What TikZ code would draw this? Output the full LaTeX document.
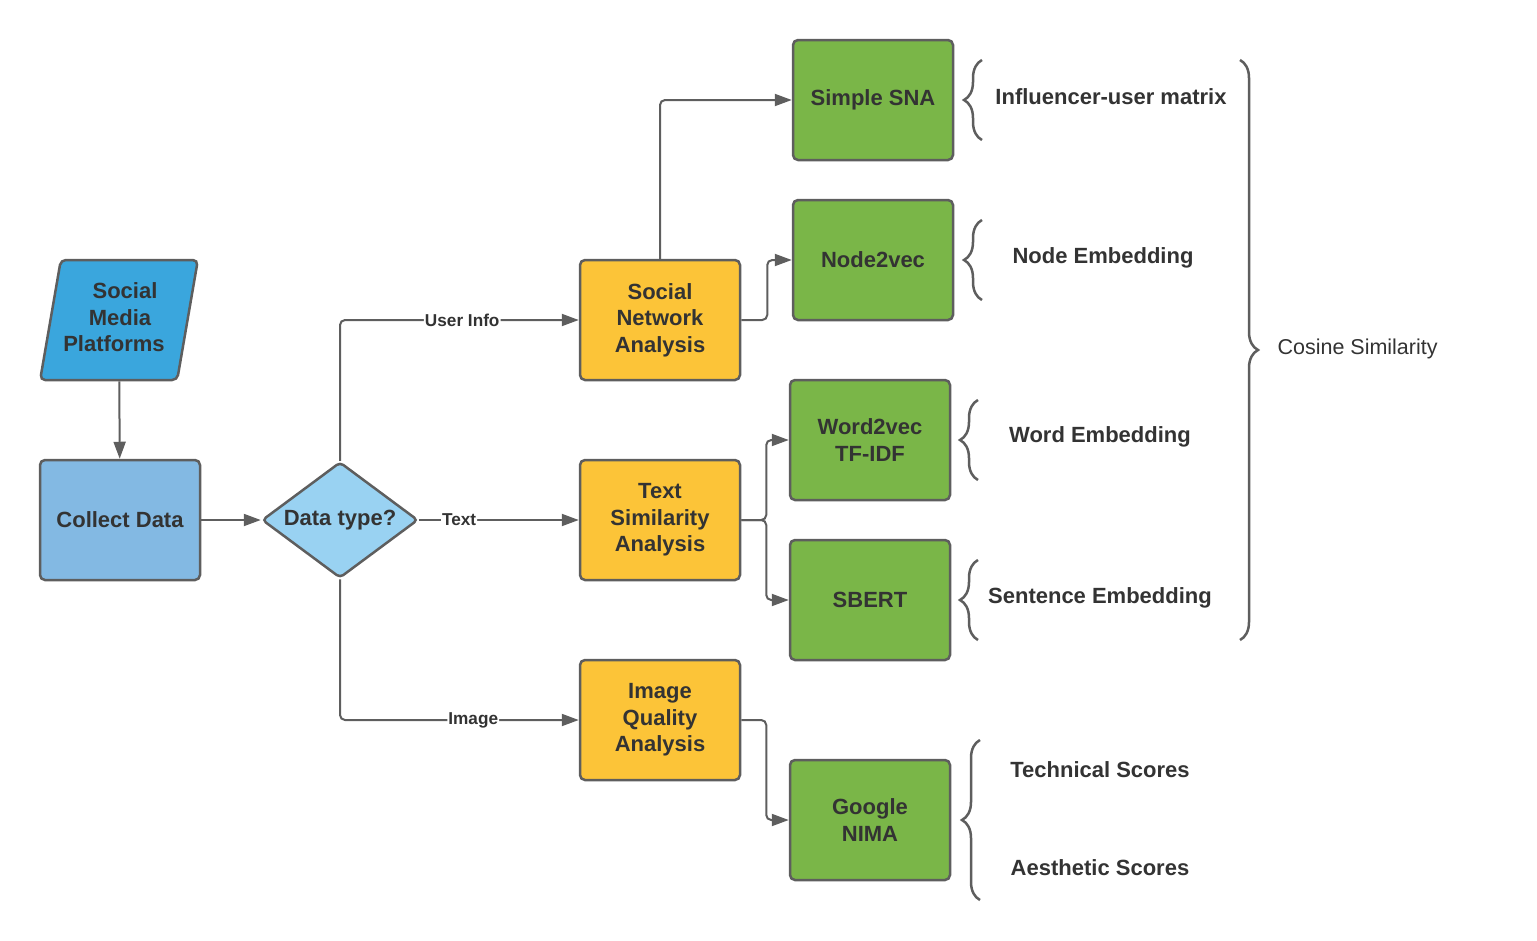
\documentclass[tikz,border=0pt]{standalone}
\usepackage{fontspec}
\setmainfont{Liberation Sans}
\usetikzlibrary{shapes.geometric,arrows.meta,decorations.pathreplacing}
\definecolor{ecol}{HTML}{5E5E5E}
\definecolor{tcol}{HTML}{333333}
\definecolor{skyfill}{HTML}{3AA6DD}
\definecolor{bluefill}{HTML}{83B9E3}
\definecolor{diafill}{HTML}{99D2F2}
\definecolor{orfill}{HTML}{FCC438}
\definecolor{grfill}{HTML}{7AB648}
\tikzstyle{box}=[rectangle, draw=ecol, line width=2.5pt, rounded corners=5pt, minimum width=160pt, minimum height=120pt, text=tcol, font=\bfseries\fontsize{22}{26.5}\selectfont, align=center, inner sep=0pt]
\tikzstyle{analysis}=[box, fill=orfill]
\tikzstyle{method}=[box, fill=grfill]
\tikzstyle{flow}=[line width=2pt, ecol, rounded corners=5pt, -{Triangle[length=17pt,width=12pt]}]
\tikzstyle{elabel}=[fill=white, inner sep=1pt, text=tcol, font=\bfseries\fontsize{17.2}{19}\selectfont]
\tikzstyle{curly}=[decorate, decoration={brace, amplitude=18pt}, line width=2.5pt, ecol]
\tikzstyle{note}=[text=tcol, font=\bfseries\fontsize{22}{26.5}\selectfont]

\begin{document}
\begin{tikzpicture}[x=1pt, y=-1pt]
	\useasboundingbox (0,0) rectangle (1537,940);

	% Input
	\node[trapezium, trapezium left angle=76, trapezium right angle=104, trapezium stretches=true,
		minimum width=158pt, minimum height=120pt, inner sep=0pt, draw=ecol, line width=2.5pt,
		rounded corners=5pt, fill=skyfill, text=tcol, align=center,
		font=\bfseries\fontsize{22}{26.5}\selectfont] (smp) at (119,320) {\raisebox{4pt}{\begin{tabular}{@{}c@{}}\hspace*{12pt}Social\\\hspace*{2pt}Media\\Platforms\hspace*{10pt}\end{tabular}}};
	\node[box, fill=bluefill] (collect) at (120,520) {Collect Data};
	\node[diamond, aspect=1.35, minimum width=156pt, minimum height=116pt, inner sep=0pt, draw=ecol, line width=2.5pt,
		rounded corners=4pt, fill=diafill, text=tcol,
		font=\bfseries\fontsize{22}{26.5}\selectfont] (dtype) at (340,520) {Data type?};

	% Analyses
	\node[analysis] (sna) at (660,320) {Social\\Network\\Analysis};
	\node[analysis] (tsa) at (660,520) {Text\\Similarity\\Analysis};
	\node[analysis] (iqa) at (660,720) {Image\\Quality\\Analysis};

	% Methods
	\node[method] (simple) at (873,100) {Simple SNA};
	\node[method] (n2v) at (873,260) {Node2vec};
	\node[method] (w2v) at (870,440) {Word2vec\\TF-IDF};
	\node[method] (sbert) at (870,600) {SBERT};
	\node[method] (nima) at (870,820) {Google\\NIMA};

	% Flow
	\draw[flow] (smp) -- (collect);
	\draw[flow] (collect) -- (dtype);
	\draw[flow] (dtype.north) |- node[elabel, pos=0.756] {User Info} (sna.west);
	\draw[flow] (dtype.east) -- node[elabel, pos=0.25] {Text} (tsa.west);
	\draw[flow] (dtype.south) |- node[elabel, pos=0.779] {Image} (iqa.west);
	\draw[flow] (sna.north) |- (simple.west);
	\draw[flow] (sna.east) -- ++(26,0) |- (n2v.west);
	\draw[flow] (tsa.east) -- ++(25,0) |- (w2v.west);
	\draw[flow] (tsa.east) -- ++(25,0) |- (sbert.west);
	\draw[flow] (iqa.east) -- ++(25,0) |- (nima.west);

	% Braces
	\draw[curly] (982,140) -- (982,60);
	\draw[curly] (982,300) -- (982,220);
	\draw[curly] (978,480) -- (978,400);
	\draw[curly] (978,640) -- (978,560);
	\draw[curly] (980,900) -- (980,740);
	\draw[curly] (1240,60) -- (1240,640);

	\node[note] (infl) at (1111,97) {Influencer-user matrix};
	\node[note] (nemb) at (1103,258) {Node Embedding};
	\node[note] (wemb) at (1100,437) {Word Embedding};
	\node[note] (semb) at (1100,598) {Sentence Embedding};
	\node[note] (tech) at (1100,770) {Technical Scores};
	\node[note] (aest) at (1100,868) {Aesthetic Scores};
	\node[note, font=\fontsize{21.5}{26}\selectfont, anchor=west] (cos) at (1274,349) {Cosine Similarity};
\end{tikzpicture}
\end{document}
